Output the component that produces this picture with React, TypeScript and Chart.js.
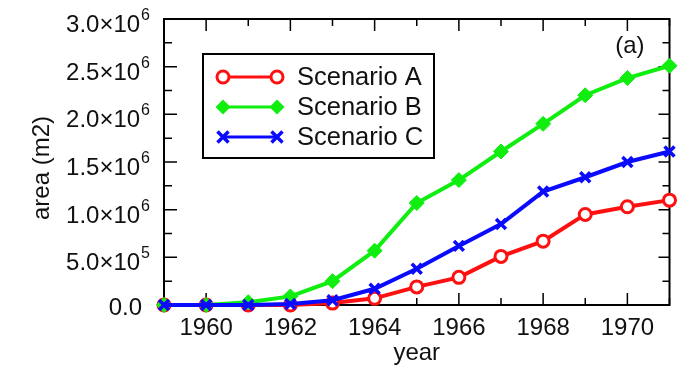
import React, { useEffect, useRef } from 'react';
import { Chart, registerables } from 'chart.js';

Chart.register(...registerables);

const years = [1959, 1960, 1961, 1962, 1963, 1964, 1965, 1966, 1967, 1968, 1969, 1970, 1971];
const scenarioA = [0, 0, 0, 0, 0.02e6, 0.07e6, 0.19e6, 0.29e6, 0.51e6, 0.67e6, 0.95e6, 1.03e6, 1.1e6];
const scenarioB = [0, 0, 0.03e6, 0.09e6, 0.25e6, 0.57e6, 1.07e6, 1.31e6, 1.61e6, 1.9e6, 2.2e6, 2.38e6, 2.51e6];
const scenarioC = [0, 0, 0, 0.01e6, 0.05e6, 0.17e6, 0.38e6, 0.62e6, 0.85e6, 1.19e6, 1.34e6, 1.5e6, 1.61e6];
const seriesNames = ['Scenario A', 'Scenario B', 'Scenario C'];
const xTickLabels = [1960, 1962, 1964, 1966, 1968, 1970];
const yTickValues = [0, 5e5, 1e6, 1.5e6, 2e6, 2.5e6, 3e6];
const yTickMantissas = ['0.0', '5.0', '1.0', '1.5', '2.0', '2.5', '3.0'];
const yTickExponents = ['', '5', '6', '6', '6', '6', '6'];
const xTitle = 'year';
const yTitle = 'area (m2)';
const panelLabel = '(a)';

const RED = '#ff1010';
const GREEN = '#10ee10';
const BLUE = '#0a0aff';
const FONT = '"Liberation Sans", Arial, Helvetica, sans-serif';

function drawMarker(ctx: CanvasRenderingContext2D, kind: string, x: number, y: number, color: string) {
  ctx.save();
  ctx.strokeStyle = color;
  ctx.fillStyle = color;
  if (kind === 'circle') {
    ctx.lineWidth = 3;
    ctx.fillStyle = '#fff';
    ctx.beginPath();
    ctx.arc(x, y, 6, 0, Math.PI * 2);
    ctx.fill();
    ctx.stroke();
  } else if (kind === 'diamond') {
    const r = 7.5;
    ctx.beginPath();
    ctx.moveTo(x - r, y);
    ctx.lineTo(x, y - r);
    ctx.lineTo(x + r, y);
    ctx.lineTo(x, y + r);
    ctx.closePath();
    ctx.fill();
  } else {
    const r = 5.5;
    ctx.lineWidth = 3.5;
    ctx.beginPath();
    ctx.moveTo(x - r, y - r);
    ctx.lineTo(x + r, y + r);
    ctx.moveTo(x + r, y - r);
    ctx.lineTo(x - r, y + r);
    ctx.stroke();
  }
  ctx.restore();
}

const framePlugin = {
  id: 'frame',
  beforeDatasetsDraw(chart: any) {
    const { ctx, chartArea } = chart;
    const xs = chart.scales.x;
    const ys = chart.scales.y;
    const { left, right, top, bottom } = chartArea;
    ctx.save();
    ctx.strokeStyle = '#000';
    ctx.lineWidth = 2;
    ctx.strokeRect(left, top, right - left, bottom - top);
    ctx.lineWidth = 1.5;
    ctx.beginPath();
    years.forEach((yr) => {
      const px = xs.getPixelForValue(yr);
      const len = yr % 2 === 0 ? 12 : 7;
      ctx.moveTo(px, bottom);
      ctx.lineTo(px, bottom - len);
      ctx.moveTo(px, top);
      ctx.lineTo(px, top + len);
    });
    for (let i = 0; i < yTickValues.length; i++) {
      const py = ys.getPixelForValue(yTickValues[i]);
      ctx.moveTo(left, py);
      ctx.lineTo(left + 13, py);
      ctx.moveTo(right, py);
      ctx.lineTo(right - 11, py);
      if (i < yTickValues.length - 1) {
        const pm = ys.getPixelForValue((yTickValues[i] + yTickValues[i + 1]) / 2);
        ctx.moveTo(left, pm);
        ctx.lineTo(left + 8, pm);
        ctx.moveTo(right, pm);
        ctx.lineTo(right - 7, pm);
      }
    }
    ctx.stroke();
    ctx.restore();
  },
  afterDraw(chart: any) {
    const { ctx, chartArea } = chart;
    const xs = chart.scales.x;
    const ys = chart.scales.y;
    const { left, right, top, bottom } = chartArea;
    ctx.save();
    ctx.fillStyle = '#111';
    // x tick labels
    ctx.font = `24px ${FONT}`;
    ctx.textAlign = 'center';
    ctx.textBaseline = 'alphabetic';
    xTickLabels.forEach((yr) => {
      ctx.fillText(String(yr), xs.getPixelForValue(yr), bottom + 30);
    });
    // y tick labels
    for (let i = 0; i < yTickValues.length; i++) {
      const py = ys.getPixelForValue(yTickValues[i]);
      const exp = yTickExponents[i];
      ctx.textAlign = 'right';
      if (exp) {
        ctx.font = `16px ${FONT}`;
        const ew = ctx.measureText(exp).width;
        const rightEdge = left - 14;
        ctx.fillText(exp, rightEdge, py + 1);
        ctx.font = `24px ${FONT}`;
        ctx.fillText(`${yTickMantissas[i]}\u00d710`, rightEdge - ew - 1, py + 13);
      } else {
        ctx.font = `24px ${FONT}`;
        ctx.fillText(yTickMantissas[i], left - 22, py + 10);
      }
    }
    // axis titles
    ctx.font = `24px ${FONT}`;
    ctx.textAlign = 'center';
    ctx.fillText(xTitle, (left + right) / 2, bottom + 55);
    ctx.save();
    ctx.translate(49, (top + bottom) / 2 + 6);
    ctx.rotate(-Math.PI / 2);
    ctx.textBaseline = 'alphabetic';
    ctx.fillText(yTitle, 0, 0);
    ctx.restore();
    // panel label
    ctx.font = `24px ${FONT}`;
    ctx.textAlign = 'right';
    ctx.fillText(panelLabel, right - 25, top + 34);
    // legend
    const bx = 203, by = 54, bw = 231, bh = 104;
    ctx.fillStyle = '#fff';
    ctx.fillRect(bx, by, bw, bh);
    ctx.strokeStyle = '#000';
    ctx.lineWidth = 2;
    ctx.strokeRect(bx, by, bw, bh);
    const kinds = ['circle', 'diamond', 'cross'];
    const colors = [RED, GREEN, BLUE];
    seriesNames.forEach((name, i) => {
      const ry = by + 23 + i * 30;
      ctx.strokeStyle = colors[i];
      ctx.lineWidth = 3;
      ctx.beginPath();
      ctx.moveTo(bx + 20, ry);
      ctx.lineTo(bx + 74, ry);
      ctx.stroke();
      drawMarker(ctx, kinds[i], bx + 20, ry, colors[i]);
      drawMarker(ctx, kinds[i], bx + 74, ry, colors[i]);
      ctx.fillStyle = '#111';
      ctx.font = `25.5px ${FONT}`;
      ctx.textAlign = 'left';
      ctx.textBaseline = 'middle';
      ctx.fillText(name, bx + 94, ry + 1);
    });
    ctx.restore();
  },
};

export default function App() {
  const ref = useRef<HTMLCanvasElement | null>(null);
  useEffect(() => {
    document.body.style.margin = '0';
    const canvas = ref.current;
    if (!canvas) return;
    const mk = (vals: number[]) => years.map((x, i) => ({ x, y: vals[i] }));
    const chart = new Chart(canvas, {
      type: 'line',
      data: {
        datasets: [
          {
            label: seriesNames[2],
            data: mk(scenarioC),
            borderColor: BLUE,
            backgroundColor: BLUE,
            borderWidth: 4,
            pointStyle: 'crossRot',
            pointRadius: 7,
            pointBorderWidth: 3.5,
            order: 0,
            clip: false as any,
          },
          {
            label: seriesNames[1],
            data: mk(scenarioB),
            borderColor: GREEN,
            backgroundColor: GREEN,
            borderWidth: 4,
            pointStyle: 'rectRot',
            pointRadius: 7.5,
            pointBorderWidth: 1,
            order: 1,
            clip: false as any,
          },
          {
            label: seriesNames[0],
            data: mk(scenarioA),
            borderColor: RED,
            backgroundColor: '#ffffff',
            borderWidth: 4,
            pointStyle: 'circle',
            pointRadius: 6,
            pointBorderWidth: 3,
            order: 2,
            clip: false as any,
          },
        ],
      },
      options: {
        animation: false,
        responsive: false,
        devicePixelRatio: 1,
        layout: { padding: { left: 164, right: 8, top: 19, bottom: 66 } },
        plugins: { legend: { display: false }, tooltip: { enabled: false } },
        scales: {
          x: { type: 'linear', min: 1959, max: 1971, display: false },
          y: { type: 'linear', min: 0, max: 3e6, display: false },
        },
      },
      plugins: [framePlugin],
    });
    return () => chart.destroy();
  }, []);
  return <canvas ref={ref} width={680} height={371} style={{ display: 'block' }} />;
}
